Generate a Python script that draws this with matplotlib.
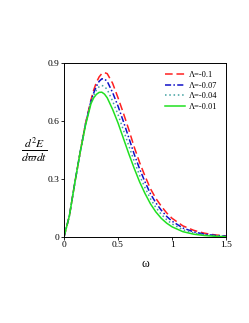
import numpy as np
import matplotlib
matplotlib.use("Agg")
import matplotlib.pyplot as plt

# values
omega = [0.0, 0.05, 0.1, 0.15, 0.2, 0.25, 0.275, 0.3, 0.325, 0.35, 0.375,
         0.4, 0.45, 0.5, 0.55, 0.6, 0.65, 0.7, 0.75, 0.8, 0.85, 0.9, 0.95,
         1.0, 1.1, 1.2, 1.3, 1.4, 1.5]

lam_010 = [0.0, 0.11, 0.28, 0.44, 0.59, 0.71, 0.76, 0.80, 0.828, 0.845, 0.85,
           0.845, 0.795, 0.72, 0.64, 0.555, 0.465, 0.385, 0.315, 0.25, 0.20,
           0.16, 0.125, 0.097, 0.058, 0.035, 0.02, 0.011, 0.006]
lam_007 = [0.0, 0.11, 0.28, 0.44, 0.587, 0.703, 0.745, 0.78, 0.805, 0.818,
           0.817, 0.805, 0.747, 0.677, 0.597, 0.513, 0.428, 0.352, 0.285,
           0.224, 0.177, 0.139, 0.107, 0.082, 0.047, 0.027, 0.015, 0.0087,
           0.0047]
lam_004 = [0.0, 0.11, 0.28, 0.44, 0.583, 0.697, 0.733, 0.76, 0.777, 0.784,
           0.778, 0.763, 0.703, 0.633, 0.553, 0.472, 0.392, 0.318, 0.255,
           0.198, 0.153, 0.118, 0.09, 0.068, 0.038, 0.021, 0.012, 0.0063,
           0.0033]
lam_001 = [0.0, 0.11, 0.28, 0.44, 0.58, 0.69, 0.72, 0.738, 0.748, 0.749,
           0.739, 0.72, 0.66, 0.59, 0.51, 0.43, 0.355, 0.285, 0.225, 0.172,
           0.13, 0.097, 0.072, 0.053, 0.028, 0.015, 0.008, 0.004, 0.002]

labels = ["Λ=-0.1", "Λ=-0.07", "Λ=-0.04", "Λ=-0.01"]
xticks = [0, 0.5, 1, 1.5]
xticklabels = ["0", "0.5", "1", "1.5"]
yticks = [0, 0.3, 0.6, 0.9]
yticklabels = ["0", "0.3", "0.6", "0.9"]

plt.rcParams['font.family'] = ['Liberation Serif', 'DejaVu Serif']
plt.rcParams['mathtext.fontset'] = 'stix'

fig = plt.figure(figsize=(2.49, 3.23), dpi=100)
ax = fig.add_axes([0.257, 0.266, 0.651, 0.539])

ax.plot(omega, lam_010, color='#ff2020', linestyle=(0, (5, 2.5)), lw=1.1, label=labels[0])
ax.plot(omega, lam_007, color='#1010c8', linestyle=(0, (4, 1.5, 1, 1.5)), lw=1.1, label=labels[1])
ax.plot(omega, lam_004, color='#40a0a0', linestyle=(0, (1, 1.8)), lw=1.1, label=labels[2])
ax.plot(omega, lam_001, color='#20e020', linestyle='-', lw=1.1, label=labels[3])

ax.set_xlim(0, 1.5)
ax.set_ylim(0, 0.9)
ax.set_xticks(xticks)
ax.set_xticklabels(xticklabels)
ax.set_yticks(yticks)
ax.set_yticklabels(yticklabels)
ax.tick_params(direction='out', length=2, width=0.6, labelsize=6.8, pad=1)
for s in ax.spines.values():
    s.set_linewidth(0.7)

ax.set_xlabel('ω', fontsize=8.5, labelpad=6)
ax.set_ylabel(r'$\frac{d^2E}{d\varpi dt}$', fontsize=12, rotation=0,
              labelpad=10, va='center')

ax.legend(loc='upper right', frameon=False, fontsize=6, handlelength=2.4,
          handletextpad=0.5, labelspacing=0.3, borderaxespad=0.6)

fig.savefig('out.png', dpi=100)
